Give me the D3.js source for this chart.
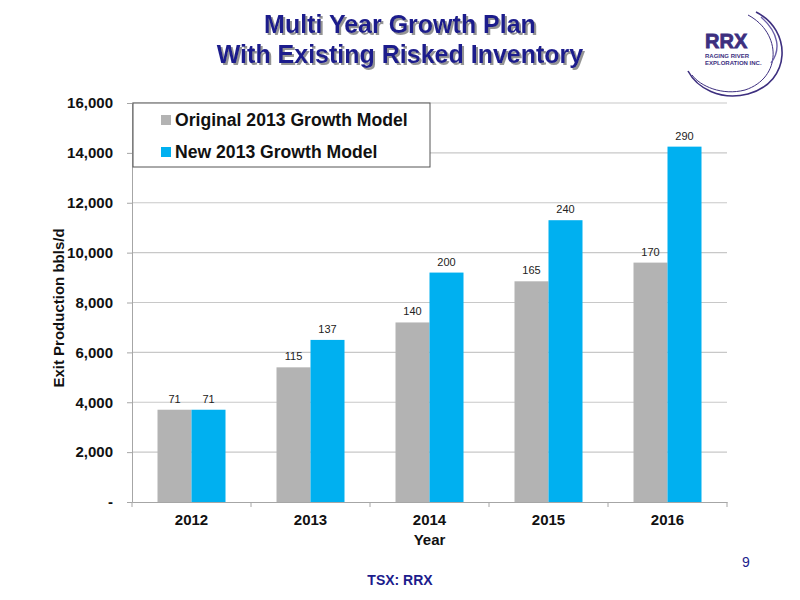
<!DOCTYPE html>
<html>
<head>
<meta charset="utf-8">
<script src="https://cdn.jsdelivr.net/npm/d3@7"></script>
<style>
  body { margin: 0; background: #fff; }
  text { font-family: "Liberation Sans", Arial, sans-serif; }
</style>
</head>
<body>
<div id="chart"></div>
<script>
// chart data
const years = ["2012", "2013", "2014", "2015", "2016"];
const seriesNames = ["Original 2013 Growth Model", "New 2013 Growth Model"];
const originalModel = [3700, 5400, 7200, 8850, 9600];
const newModel = [3700, 6500, 9200, 11300, 14250];
const originalLabels = ["71", "115", "140", "165", "170"];
const newLabels = ["71", "137", "200", "240", "290"];
const yTicks = [0, 2000, 4000, 6000, 8000, 10000, 12000, 14000, 16000];

const colors = ["#b3b3b3", "#00b0f0"];
const navy = "#1c1c8c";

const width = 800, height = 600;
const margin = {left: 132, right: 73, top: 103, bottom: 98};

const svg = d3.select("#chart").append("svg")
    .attr("width", width)
    .attr("height", height);

// shadow for the title
svg.append("defs").append("filter")
    .attr("id", "shadow")
    .attr("x", "-5%").attr("y", "-20%")
    .attr("width", "110%").attr("height", "150%")
    .append("feDropShadow")
    .attr("dx", 2).attr("dy", 2)
    .attr("stdDeviation", 0.6)
    .attr("flood-color", "#888")
    .attr("flood-opacity", 0.9);

// titles
const titleLines = ["Multi Year Growth Plan", "With Existing Risked Inventory"];
titleLines.forEach((t, i) => {
    svg.append("text")
        .attr("x", 400).attr("y", 33 + i * 30)
        .attr("text-anchor", "middle")
        .attr("font-size", 25).attr("font-weight", "bold")
        .attr("fill", navy)
        .attr("filter", "url(#shadow)")
        .text(t);
});

// logo
const logo = svg.append("g");
logo.append("path")
    .attr("d", "M756,12 C792,30 792,82 748,94 C720,101 697,88 688,71")
    .attr("fill", "none").attr("stroke", "#3d2f7f").attr("stroke-width", 1.6);
logo.append("path")
    .attr("d", "M748,15 C782,33 782,78 745,90 C722,96 700,86 692,75")
    .attr("fill", "none").attr("stroke", "#3d2f7f").attr("stroke-width", 1);
logo.append("path")
    .attr("d", "M761,17 C779,33 781,50 771,63")
    .attr("fill", "none").attr("stroke", "#6a5fa8").attr("stroke-width", 1.4);
logo.append("text")
    .attr("x", 705).attr("y", 48)
    .attr("font-size", 20).attr("font-weight", "bold")
    .attr("fill", "#3d2f7f").attr("stroke", "#3d2f7f").attr("stroke-width", 0.8)
    .text("RRX");
logo.append("text")
    .attr("x", 705).attr("y", 58)
    .attr("font-size", 6).attr("font-weight", "bold")
    .attr("fill", "#3d2f7f")
    .text("RAGING RIVER");
logo.append("text")
    .attr("x", 705).attr("y", 65)
    .attr("font-size", 6).attr("font-weight", "bold")
    .attr("fill", "#3d2f7f")
    .text("EXPLORATION INC.");

// scales
const x0 = d3.scaleBand()
    .domain(years)
    .range([margin.left, width - margin.right]);

const x1 = d3.scaleBand()
    .domain([0, 1])
    .range([0, 68]);

const y = d3.scaleLinear()
    .domain([0, 16000])
    .range([height - margin.bottom, margin.top]);

// gridlines
svg.append("g")
    .selectAll("line")
    .data(yTicks.slice(1))
    .join("line")
    .attr("x1", margin.left).attr("x2", width - margin.right)
    .attr("y1", d => y(d)).attr("y2", d => y(d))
    .attr("stroke", "#c8c8c8").attr("stroke-width", 1.2);

// y axis
const yAxis = svg.append("g")
    .attr("transform", `translate(${margin.left},0)`)
    .call(d3.axisLeft(y).tickValues(yTicks)
        .tickFormat(d => d === 0 ? "-" : d3.format(",")(d))
        .tickSize(5).tickPadding(14));
yAxis.select(".domain").attr("stroke", "#a6a6a6");
yAxis.selectAll(".tick line").attr("stroke", "#a6a6a6");
yAxis.selectAll(".tick text")
    .attr("font-size", 15).attr("font-weight", "bold").attr("fill", "#111")
    .style("font-family", "'Liberation Sans', Arial, sans-serif");

// x axis
const xAxis = svg.append("g")
    .attr("transform", `translate(0,${height - margin.bottom})`)
    .call(d3.axisBottom(x0).tickSize(0).tickPadding(12));
xAxis.select(".domain").attr("stroke", "#a6a6a6");
xAxis.selectAll(".tick text")
    .attr("font-size", 15).attr("font-weight", "bold").attr("fill", "#111")
    .style("font-family", "'Liberation Sans', Arial, sans-serif");

// category boundary ticks
svg.append("g")
    .selectAll("line")
    .data(years.concat(["end"]))
    .join("line")
    .attr("x1", (d, i) => margin.left + i * x0.step())
    .attr("x2", (d, i) => margin.left + i * x0.step())
    .attr("y1", height - margin.bottom)
    .attr("y2", height - margin.bottom + 5)
    .attr("stroke", "#a6a6a6");

// bars
const series = [originalModel, newModel];
const labels = [originalLabels, newLabels];
const groups = svg.append("g")
    .selectAll("g")
    .data(years)
    .join("g")
    .attr("transform", d => `translate(${x0(d) + (x0.bandwidth() - 68) / 2},0)`);

groups.selectAll("rect")
    .data((d, i) => series.map((s, k) => ({k: k, v: s[i]})))
    .join("rect")
    .attr("x", d => x1(d.k))
    .attr("width", x1.bandwidth())
    .attr("y", d => y(d.v))
    .attr("height", d => y(0) - y(d.v))
    .attr("fill", d => colors[d.k]);

groups.selectAll("text")
    .data((d, i) => labels.map((s, k) => ({k: k, v: series[k][i], t: s[i]})))
    .join("text")
    .attr("x", d => x1(d.k) + x1.bandwidth() / 2)
    .attr("y", d => y(d.v) - 7)
    .attr("text-anchor", "middle")
    .attr("font-size", 11).attr("fill", "#222")
    .text(d => d.t);

// axis titles
svg.append("text")
    .attr("transform", "translate(64,308) rotate(-90)")
    .attr("text-anchor", "middle")
    .attr("font-size", 15).attr("font-weight", "bold").attr("fill", "#111")
    .text("Exit Production bbls/d");

svg.append("text")
    .attr("x", x0("2014") + x0.bandwidth() / 2).attr("y", 545)
    .attr("text-anchor", "middle")
    .attr("font-size", 15).attr("font-weight", "bold").attr("fill", "#111")
    .text("Year");

// legend
const legend = svg.append("g").attr("transform", `translate(${margin.left + 1},${margin.top})`);
legend.append("rect")
    .attr("width", 297).attr("height", 64)
    .attr("fill", "#fff").attr("stroke", "#555").attr("stroke-width", 1);
seriesNames.forEach((name, i) => {
    legend.append("rect")
        .attr("x", 28).attr("y", 12 + i * 32)
        .attr("width", 10).attr("height", 10)
        .attr("fill", colors[i]);
    legend.append("text")
        .attr("x", 42).attr("y", 23 + i * 32)
        .attr("font-size", 17.6).attr("font-weight", "bold").attr("fill", "#111")
        .text(name);
});

// footer
svg.append("text")
    .attr("x", 400).attr("y", 585)
    .attr("text-anchor", "middle")
    .attr("font-size", 14).attr("font-weight", "bold").attr("fill", navy)
    .text("TSX: RRX");

svg.append("text")
    .attr("x", 746).attr("y", 567)
    .attr("text-anchor", "middle")
    .attr("font-size", 14).attr("fill", navy)
    .text("9");
</script>
</body>
</html>
